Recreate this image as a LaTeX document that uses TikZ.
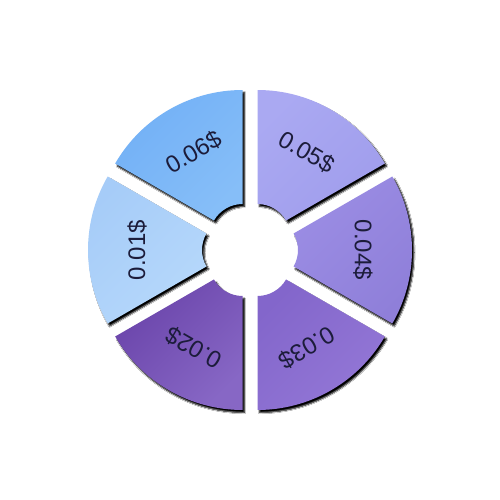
\documentclass[tikz,border=0pt]{standalone}
\usepackage{fontspec}
\setmainfont{Liberation Sans}
\usetikzlibrary{shadows.blur}
\definecolor{c6a}{HTML}{72B0F6}
\definecolor{c6b}{HTML}{86BEF8}
\definecolor{c5a}{HTML}{AAA9F2}
\definecolor{c5b}{HTML}{A09DEC}
\definecolor{c4a}{HTML}{9B8DE4}
\definecolor{c4b}{HTML}{8F7FD9}
\definecolor{c3a}{HTML}{8366CB}
\definecolor{c3b}{HTML}{9377D6}
\definecolor{c2a}{HTML}{6A44AA}
\definecolor{c2b}{HTML}{8767C5}
\definecolor{c1a}{HTML}{A6CCF8}
\definecolor{c1b}{HTML}{B6D8FB}
\definecolor{txt}{HTML}{1C1C3A}
\begin{document}
\begin{tikzpicture}[x=1pt,y=1pt,
  segment/.style={blur shadow={shadow xshift=2pt, shadow yshift=-2.6pt,
     shadow blur radius=1.2pt, shadow opacity=100, shadow blur steps=6}},
  lbl/.style={font=\fontsize{24}{28}\selectfont, text=txt, inner sep=0pt}]
\useasboundingbox[fill=white] (0,0) rectangle (500,500);
\coordinate (O) at (250,250);
\foreach \a/\t/\ca/\cb/\n in {120/0.06\$/c6a/c6b/s6,
                              60/0.05\$/c5a/c5b/s5,
                              0/0.04\$/c4a/c4b/s4,
                              -60/0.03\$/c3a/c3b/s3,
                              -120/0.02\$/c2a/c2b/s2,
                              180/0.01\$/c1a/c1b/s1} {
  \coordinate (c\n) at ([shift={(\a:15pt)}]O);
  \path[segment, top color=\ca, bottom color=\cb, shading angle=45]
    ([shift={(\a-30:147pt)}]c\n)
    arc[start angle=\a-30, end angle=\a+30, radius=147pt]
    -- ([shift={(\a+30:33pt)}]c\n)
    arc[start angle=\a+30, end angle=\a-30, radius=33pt]
    -- cycle;
  \node[lbl, rotate=\a-90] (t\n) at ([shift={(\a:113pt)}]O) {\t};
}
\end{tikzpicture}
\end{document}
